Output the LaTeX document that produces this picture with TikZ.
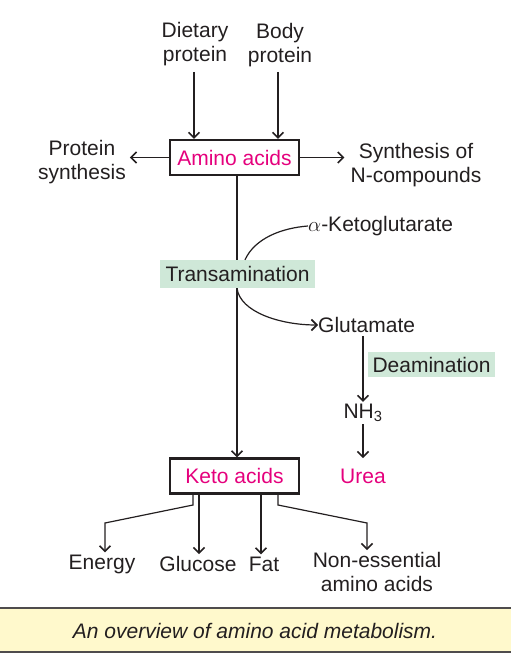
\documentclass[tikz,border=0pt]{standalone}
\usepackage{fontspec}
\setmainfont{Liberation Sans}
\usetikzlibrary{arrows.meta,calc}
\definecolor{txt}{HTML}{231F20}
\definecolor{mag}{HTML}{E5007D}
\definecolor{grn}{HTML}{CFE8D8}
\definecolor{capfill}{HTML}{FFF9CC}
\begin{document}
\begin{tikzpicture}[x=1pt,y=-1pt,
  every node/.style={font=\fontsize{21}{24}\selectfont, text=txt, align=center, inner sep=2pt},
  box/.style={draw=txt, line width=2.2pt, minimum width=129pt, minimum height=35pt, text=mag, fill=white, inner sep=0pt},
  band/.style={fill=grn, inner sep=0pt},
  arr/.style={draw=txt, line width=1.2pt, -{Straight Barb[length=5.5pt,width=11pt,line width=1.6pt]}},
  ln/.style={draw=txt, line width=1.2pt}]
\useasboundingbox (0,0) rectangle (511,671);
% caption band
\path[fill=capfill] (0,608) rectangle (511,652);
\draw[draw=txt!80, line width=1.5pt] (0,608) -- (511,608);
\draw[draw=txt!80, line width=1.5pt] (0,652) -- (511,652);
\node (cap) at (255,631) {\itshape An overview of amino acid metabolism.};
% top sources
\node (diet) at (195,44) {Dietary\\protein};
\node (body) at (280,45) {Body\\protein};
\node[box] (amino) at (234.5,157.5) {Amino acids};
\node (ps) at (82,162) {Protein\\synthesis};
\node (syn) at (416,165) {Synthesis of\\N-compounds};
\draw[arr] (194,72) -- (amino.north -| 194,0);
\draw[arr] (278,72) -- (amino.north -| 278,0);
\draw[arr] (amino.west) -- ($(ps.east |- amino.west)+(2,0)$);
\draw[arr] (amino.east) -- ($(syn.west |- amino.east)+(-4,0)$);
% keto acids
\node[box] (keto) at (234.5,476) {Keto acids};
\draw[arr] (amino.south -| 237,0) -- (keto.north -| 237,0);
% transamination
\node[band, minimum width=155pt, minimum height=28pt] (trans) at (237.5,274) {Transamination};
\node[anchor=west, inner sep=0pt] (akg) at (308,226) {$\alpha$-Ketoglutarate};
\node[anchor=west, inner sep=0pt] (glu) at (318,325) {Glutamate};
\draw[ln] (trans.north -| 245,0) .. controls (255,238) and (282,228) .. (akg.west);
\draw[arr] (trans.south -| 237,0) .. controls (240,312) and (280,325) .. (glu.west);
% deamination
\node[band, minimum width=127pt, minimum height=25pt] (deam) at (431.5,364.5) {Deamination};
\node (nh3) at (363,413) {NH\textsubscript{3}};
\node[text=mag] (urea) at (363,476) {Urea};
\draw[arr] (glu.south -| 363,0) ++(0,3) -- (nh3.north);
\draw[arr] (nh3.south) -- ++(0,34);
% products
\node (en) at (102,564) {Energy};
\node (gl) at (198,564) {Glucose};
\node (fat) at (264,564) {Fat};
\node (ne) at (377,572) {Non-essential\\amino acids};
\coordinate (e1) at (193,505);
\coordinate (e2) at (105,523);
\coordinate (n1) at (278,505);
\coordinate (n2) at (367,523);
\draw[arr] (keto.south -| e1) -- (e1) -- (e2) -- (e2 |- en.north);
\draw[arr] (keto.south -| 199,0) -- (gl.north -| 199,0);
\draw[arr] (keto.south -| 261,0) -- (fat.north -| 261,0);
\draw[arr] (keto.south -| n1) -- (n1) -- (n2) -- (n2 |- ne.north);
\end{tikzpicture}
\end{document}
